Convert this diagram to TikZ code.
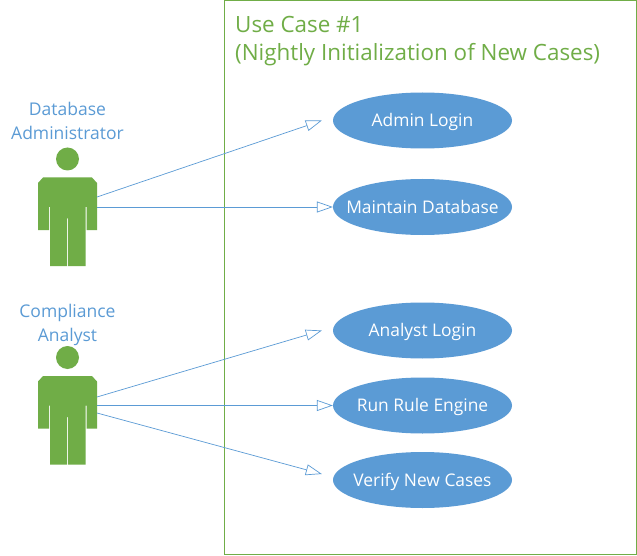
\documentclass[tikz,border=0pt]{standalone}
\usepackage{fontspec}
\setmainfont{Open Sans}
\usetikzlibrary{shapes.geometric,arrows.meta}
\definecolor{grn}{HTML}{70AD47}
\definecolor{blu}{HTML}{5B9BD5}
\newcommand{\uctext}[1]{\raisebox{-0.36em}[0pt][0pt]{\makebox[0pt][c]{#1}}}
\tikzset{
 x=1pt,y=-1pt,
 uc/.style={ellipse,fill=blu,minimum width=179pt,minimum height=56pt,inner sep=0pt,text=white,font=\fontsize{17.4pt}{20pt}\selectfont},
 assoc/.style={draw=blu,line width=0.7pt,-{Triangle[open,length=16pt,width=11pt,fill=white]}},
 lbl/.style={text=blu,align=center,font=\fontsize{17.5pt}{24pt}\selectfont},
 person/.pic={
  \fill[grn] (0,-18.5) circle (11.5);
  \fill[grn] (-24.5,0) -- (24.5,0) -- (29.5,5.5) -- (29.5,52.5) -- (19,52.5) -- (19,29.5) -- (18,29.5) -- (18,88.5) -- (0.5,88.5) -- (0.5,41) -- (-0.5,41) -- (-0.5,88.5) -- (-17.5,88.5) -- (-17.5,29.5) -- (-18.5,29.5) -- (-18.5,52.5) -- (-29.5,52.5) -- (-29.5,5.5) -- cycle;
 }
}
\begin{document}
\begin{tikzpicture}
\useasboundingbox (0,0) rectangle (637,556);
\fill[white] (0,0) rectangle (637,556);
\draw[grn,line width=0.8pt] (224.5,0.5) rectangle (636.5,554.5);
\node[anchor=north west,text=grn,align=left,inner sep=0pt,font=\fontsize{22.4pt}{28pt}\selectfont] (title) at (235,16) {Use Case \#1\\(Nightly Initialization of New Cases)};
\node[lbl] (dba) at (67.5,120.5) {Database\\Administrator};
\node[lbl] (ca) at (67.5,325) {Compliance\\Analyst};
\pic at (67.5,177.5) {person};
\pic at (67.5,376) {person};
\coordinate (p1) at (97,197);
\coordinate (p1b) at (97,207);
\coordinate (p2a) at (97,397);
\coordinate (p2b) at (97,405.5);
\coordinate (p2c) at (97,413);
\node[uc] (a) at (422.5,120.5) {\uctext{Admin Login}};
\node[uc] (b) at (422.5,207) {\uctext{Maintain Database}};
\node[uc] (c) at (422.5,330.5) {\uctext{Analyst Login}};
\node[uc] (d) at (422.5,405.5) {\uctext{Run Rule Engine}};
\node[uc] (e) at (422.5,480) {\uctext{Verify New Cases}};
\draw[assoc] (p1) -- ([xshift=-11pt]a.west);
\draw[assoc] (p1b) -- (b.west);
\draw[assoc] (p2a) -- ([xshift=-11pt]c.west);
\draw[assoc] (p2b) -- (d.west);
\draw[assoc] (p2c) -- ([xshift=-11pt,yshift=6pt]e.west);
\end{tikzpicture}
\end{document}
